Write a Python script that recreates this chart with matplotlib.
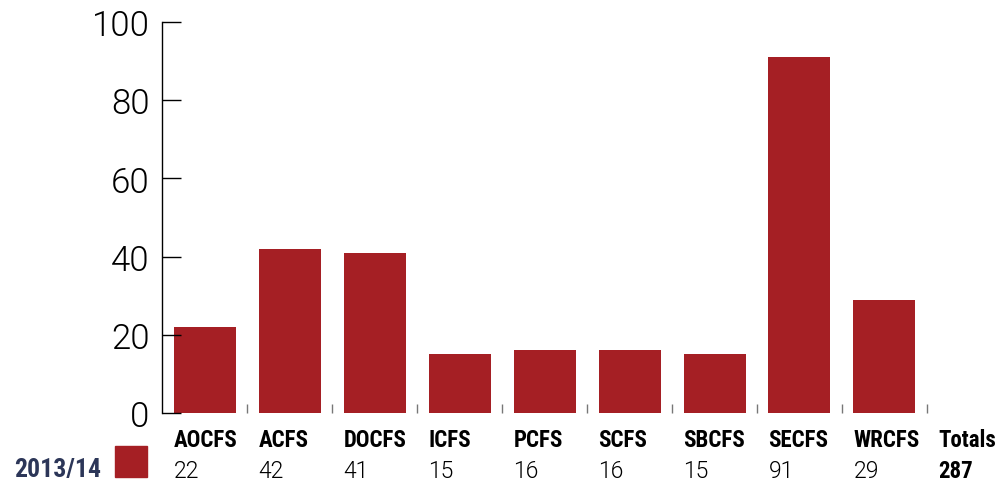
import matplotlib.pyplot as plt
from matplotlib.patches import Rectangle

categories = ["AOCFS", "ACFS", "DOCFS", "ICFS", "PCFS", "SCFS", "SBCFS", "SECFS", "WRCFS"]
values = [22, 42, 41, 15, 16, 16, 15, 91, 29]
total = 287
series_label = "2013/14"
y_ticks = [0, 20, 40, 60, 80, 100]

bar_color = "#a51f24"
light = ["Roboto", "DejaVu Sans"]
cond = ["Roboto Condensed", "DejaVu Sans"]

W, H = 1008, 481
fig = plt.figure(figsize=(W / 100, H / 100), dpi=100)
ax = fig.add_axes([162 / W, (H - 414) / H, 833 / W, 391 / H])

x = list(range(len(categories)))
ax.bar(x, values, width=62 / 85, color=bar_color)
ax.set_xlim(-0.5, 9.3)
ax.set_ylim(0, 100)

for s in ["top", "right", "bottom"]:
    ax.spines[s].set_visible(False)
ax.spines["left"].set_linewidth(1)

ax.set_yticks(y_ticks)
ax.set_yticklabels([str(v) for v in y_ticks], family=light, fontweight=300, fontsize=25)
ax.tick_params(axis="y", direction="in", length=14, width=1, pad=9, colors="black")

# small boundary ticks between categories
ax.set_xticks([i + 0.5 for i in x])
ax.set_xticklabels([])
ax.tick_params(axis="x", direction="in", length=6.5, width=1, color="#777777")

tr = ax.get_xaxis_transform()
off = 0.365
fs = 16.5
for i, (c, v) in enumerate(zip(categories, values)):
    ax.text(i - off, -0.0844, c, transform=tr, ha="left", va="baseline",
            family=cond, fontweight="bold", fontsize=fs, clip_on=False)
    ax.text(i - off, -0.1637, str(v), transform=tr, ha="left", va="baseline",
            family=light, fontweight=300, fontsize=fs, clip_on=False)
ax.text(9 - off, -0.0844, "Totals", transform=tr, ha="left", va="baseline",
        family=cond, fontweight="bold", fontsize=fs, clip_on=False)
ax.text(9 - off, -0.1637, str(total), transform=tr, ha="left", va="baseline",
        family=cond, fontweight="bold", fontsize=fs, clip_on=False)

# legend: series label + swatch
fig.text(14 / W, (H - 477) / H, series_label, ha="left", va="baseline",
         family=cond, fontweight="bold", fontsize=18.5, color="#2c3658")
fig.add_artist(Rectangle((115 / W, (H - 478) / H), 32 / W, 31 / H,
                         transform=fig.transFigure, color=bar_color))

fig.savefig("out.png", dpi=100)
